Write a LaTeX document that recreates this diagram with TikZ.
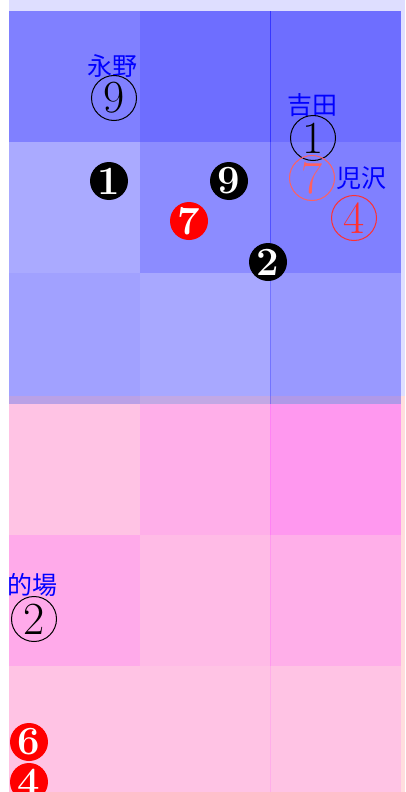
\documentclass[tikz,border=0pt]{standalone}
\usepackage{fontspec}
\newfontfamily\jpfont{Noto Sans CJK JP}
\definecolor{bluebg}{RGB}{222,222,255}
\definecolor{pinkbg}{RGB}{255,222,222}
\definecolor{pinkcell}{RGB}{255,89,255}
\definecolor{lightred}{RGB}{255,96,96}
\definecolor{midred}{RGB}{255,48,48}
\begin{document}
\begin{tikzpicture}[x=1pt, y=-1pt,
    ring/.style={draw, circle, line width=1pt, inner sep=0pt, minimum size=45pt,
      font=\fontsize{46}{46}\selectfont},
    disc/.style={circle, fill=black, text=white, inner sep=0pt, minimum size=38pt,
      font=\fontsize{40}{40}\selectfont\bfseries},
    lbl/.style={text=blue, inner sep=0pt, font=\fontsize{25}{25}\selectfont\jpfont}]
    \useasboundingbox (0,0) rectangle (405,792);

    % 背景
    \fill[bluebg] (9,0) rectangle (405,396);
    \fill[pinkbg] (9,396) rectangle (405,792);

    % 上の盤
    \foreach \x/\w/\y/\a in {9/131/11/0.42, 140/130.8/11/0.5, 270.2/130.8/11/0.5,
        9/131/142/0.23, 140/130.8/142/0.37, 270.2/130.8/142/0.42,
        9/131/272.5/0.27, 140/130.8/272.5/0.24, 270.2/130.8/272.5/0.31}
        \fill[blue, fill opacity=\a] (\x,\y) rectangle +(\w,131);

    % 下の盤
    \foreach \x/\w/\y/\h/\a in {9/131/403.5/131/0.2, 140/130.8/403.5/131/0.35, 270.2/130.8/403.5/131/0.52,
        9/131/534.5/131/0.39, 140/130.8/534.5/131/0.26, 270.2/130.8/534.5/131/0.35,
        9/131/665.5/126.5/0.2, 140/130.8/665.5/126.5/0.2, 270.2/130.8/665.5/126.5/0.2}
        \fill[pinkcell, fill opacity=\a] (\x,\y) rectangle +(\w,\h);

    % 名前
    \node[lbl] (nagano) at (112,66) {永野};
    \node[lbl] (yoshida) at (312,105) {吉田};
    \node[lbl] (kozawa) at (361,178) {児沢};
    \node[lbl] (matoba) at (33,585) {的場};

    % 白丸
    \node[ring] (r9) at (114,98) {9};
    \node[ring] (r1) at (313,138) {1};
    \node[ring, draw=lightred, text=lightred] (r7) at (312,178) {7};
    \node[ring, draw=midred, text=midred] (r4) at (354,218) {4};
    \node[ring] (r2) at (34,619) {2};

    % 黒丸
    \node[disc] (d1) at (109,181) {1};
    \node[disc] (d9) at (229,181) {9};
    \node[disc, fill=red] (d7) at (189,221) {7};
    \node[disc] (d2) at (268,262) {2};
    \node[disc, fill=red] (d6) at (29,742) {6};
    \node[disc, fill=red] (d4) at (29,782) {4};
\end{tikzpicture}
\end{document}
